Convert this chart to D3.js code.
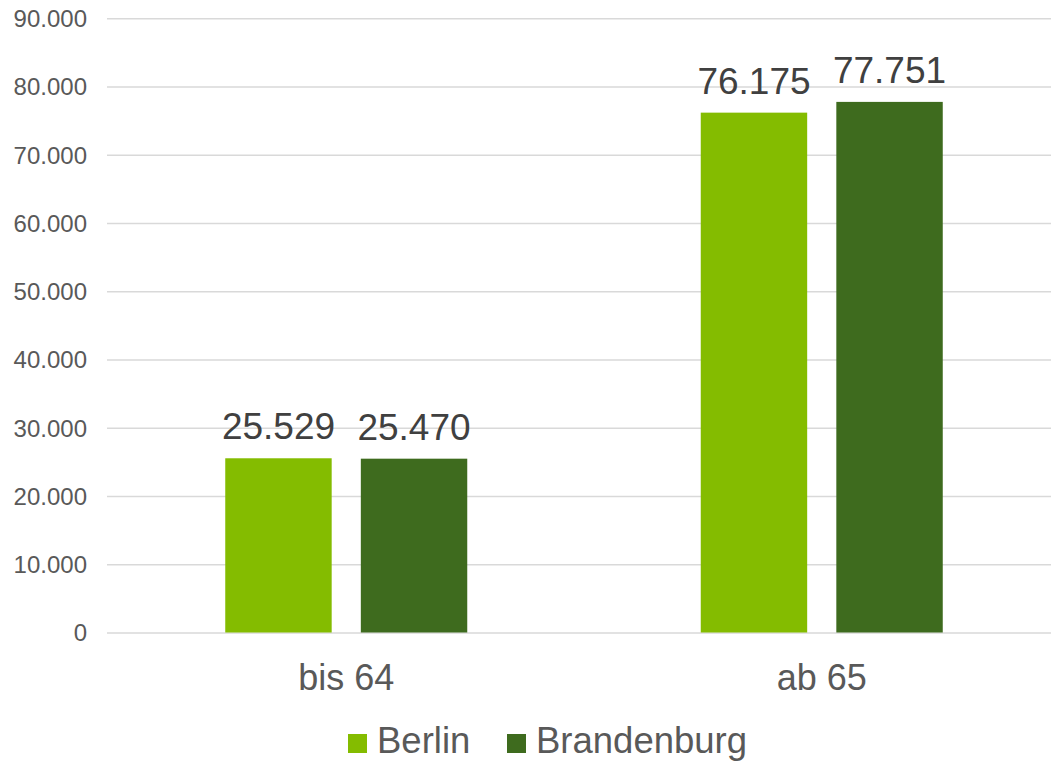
<!DOCTYPE html>
<html>
<head>
<meta charset="utf-8">
<script src="https://cdn.jsdelivr.net/npm/d3@7"></script>
<style>
  html, body { margin: 0; padding: 0; background: #fff; }
  svg { display: block; font-family: "Liberation Sans", Arial, sans-serif; }
</style>
</head>
<body>
<svg id="chart" width="1051" height="762"></svg>
<script>
// Age groups and series
const categories = ["bis 64", "ab 65"];
const seriesNames = ["Berlin", "Brandenburg"];
const berlinValues = [25529, 76175];
const brandenburgValues = [25470, 77751];
const tickValues = [0, 10000, 20000, 30000, 40000, 50000, 60000, 70000, 80000, 90000];
const seriesColors = ["#84bc00", "#3e6b1e"];

const values = [berlinValues, brandenburgValues];
const fmt = d3.formatLocale({ decimal: ",", thousands: ".", grouping: [3], currency: ["", "€"] }).format(",.0f");

const svg = d3.select("#chart");
const plot = { left: 107, right: 1051, top: 18.3, bottom: 632.5 };

const y = d3.scaleLinear().domain([0, 90000]).range([plot.bottom, plot.top]);
const x0 = d3.scaleBand().domain(categories).range([108.5, 1059.5]).padding(0);
const groupWidth = 242;
const x1 = d3.scaleBand().domain(seriesNames).range([0, groupWidth]).paddingInner(0.215).paddingOuter(0);
const color = d3.scaleOrdinal().domain(seriesNames).range(seriesColors);

// Horizontal gridlines with tick labels
const yAxis = d3.axisLeft(y).tickValues(tickValues).tickFormat(fmt).tickSize(-(plot.right - plot.left)).tickPadding(20);
const gy = svg.append("g").attr("transform", `translate(${plot.left},0)`).call(yAxis);
gy.select(".domain").remove();
gy.selectAll(".tick line").attr("stroke", "#d9d9d9").attr("stroke-width", 1.5);
gy.selectAll(".tick text")
  .attr("fill", "#595959")
  .attr("font-size", 24)
  .attr("x", 87 - plot.left)
  .attr("dy", "0.35em");

// Bars grouped by age group
const groups = svg.append("g").selectAll("g")
  .data(categories)
  .join("g")
  .attr("transform", c => `translate(${x0(c) + (x0.bandwidth() - groupWidth) / 2},0)`);

groups.selectAll("rect")
  .data((c, ci) => seriesNames.map((s, si) => ({ s, v: values[si][ci] })))
  .join("rect")
  .attr("x", d => x1(d.s))
  .attr("y", d => y(d.v))
  .attr("width", x1.bandwidth())
  .attr("height", d => y(0) - y(d.v))
  .attr("fill", d => color(d.s));

// Value labels above bars
groups.selectAll("text.value")
  .data((c, ci) => seriesNames.map((s, si) => ({ s, v: values[si][ci] })))
  .join("text")
  .attr("class", "value")
  .attr("x", d => x1(d.s) + x1.bandwidth() / 2)
  .attr("y", d => y(d.v) - 19)
  .attr("text-anchor", "middle")
  .attr("font-size", 37)
  .attr("fill", "#404040")
  .text(d => fmt(d.v));

// Category labels
svg.append("g").selectAll("text")
  .data(categories)
  .join("text")
  .attr("x", c => x0(c) + x0.bandwidth() / 2)
  .attr("y", 690)
  .attr("text-anchor", "middle")
  .attr("font-size", 36)
  .attr("fill", "#595959")
  .text(c => c);

// Legend
const legendX = [348, 507];
const legend = svg.append("g").selectAll("g")
  .data(seriesNames)
  .join("g")
  .attr("transform", (d, i) => `translate(${legendX[i]},0)`);
legend.append("rect")
  .attr("x", 0).attr("y", 734)
  .attr("width", 19).attr("height", 19)
  .attr("fill", d => color(d));
legend.append("text")
  .attr("x", 29).attr("y", 753)
  .attr("font-size", 36.5)
  .attr("fill", "#595959")
  .text(d => d);
</script>
</body>
</html>
